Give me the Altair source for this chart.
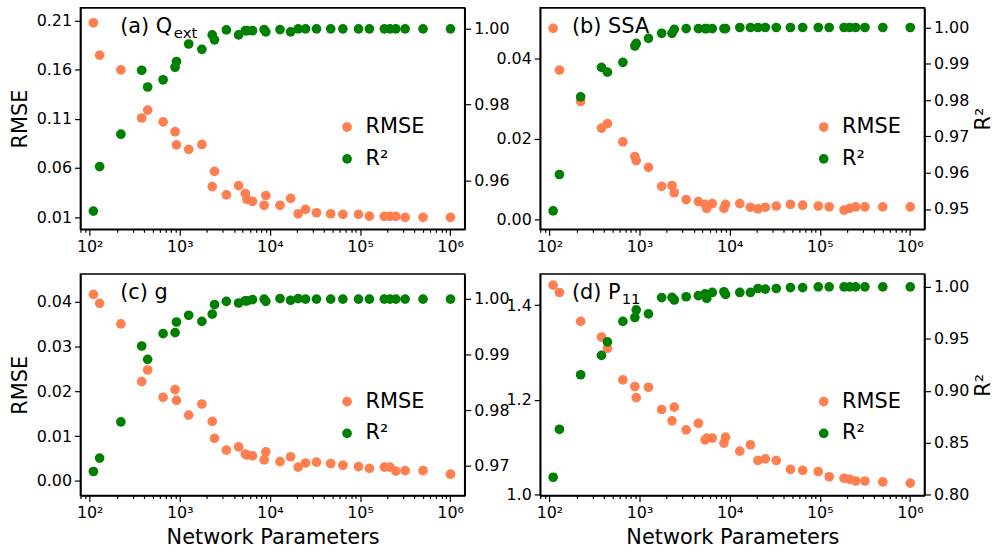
import altair as alt
import pandas as pd

# Network size (number of trainable parameters) of each tested architecture
params = [110, 129, 222, 378, 440, 653, 887, 919, 1256, 1759, 2291, 2428, 3289,
          4495, 5333, 5560, 6412, 8630, 9010, 12950, 16980, 20590, 24880, 32890,
          47250, 64560, 96170, 127100, 185900, 214800, 250000, 316900, 500300,
          1009000]

# (a) extinction efficiency
qext_rmse = [0.208, 0.175, 0.160, 0.111, 0.119, 0.107, 0.097, 0.0835, 0.079, 0.084,
             0.041, 0.0565, 0.0326, 0.042, 0.034, 0.028, 0.026, 0.022, 0.032, 0.022,
             0.029, 0.0134, 0.0178, 0.0144, 0.0134, 0.0127, 0.0127, 0.011, 0.0107,
             0.0107, 0.0107, 0.0097, 0.0097, 0.0097]
qext_r2 = [0.952, 0.9637, 0.9722, 0.989, 0.9846, 0.9865, 0.9898, 0.9913, 0.9959,
           0.9945, 0.9983, 0.997, 0.9996, 0.9983, 0.9994, 0.9994, 0.9994, 0.9997,
           0.9991, 0.9997, 0.9991, 0.9999, 0.9999, 0.9999, 0.9999, 0.9999, 0.9999,
           0.9999, 0.9999, 0.9999, 0.9999, 0.9999, 0.9999, 0.9999]

# (b) single scattering albedo
ssa_rmse = [0.0475, 0.0371, 0.0293, 0.0227, 0.0238, 0.0193, 0.0156, 0.0146, 0.0129,
            0.0082, 0.0084, 0.0066, 0.0049, 0.0044, 0.0037, 0.0027, 0.0039, 0.0027,
            0.0037, 0.0039, 0.0030, 0.0026, 0.0030, 0.0033, 0.0037, 0.0035, 0.0033,
            0.0031, 0.0023, 0.0027, 0.0031, 0.0031, 0.0031, 0.0031]
ssa_r2 = [0.9495, 0.9595, 0.9809, 0.989, 0.9877, 0.9904, 0.9949, 0.9956, 0.997,
          0.9984, 0.9984, 0.9995, 0.9997, 0.9997, 0.9997, 0.9997, 0.9997, 0.9997,
          0.9997, 1.0, 1.0, 1.0, 1.0, 1.0, 1.0, 1.0, 1.0, 1.0, 1.0, 1.0, 1.0, 1.0,
          1.0, 1.0]

# (c) asymmetry parameter
g_rmse = [0.0417, 0.0397, 0.0351, 0.0222, 0.0248, 0.0187, 0.0204, 0.0180, 0.0147,
          0.0172, 0.0133, 0.0095, 0.0069, 0.0076, 0.0060, 0.0058, 0.0056, 0.0047,
          0.0065, 0.0043, 0.0054, 0.0031, 0.0040, 0.0042, 0.0039, 0.0035, 0.0032,
          0.0028, 0.0031, 0.0031, 0.0022, 0.0023, 0.0023, 0.0015]
g_r2 = [0.969, 0.9714, 0.9779, 0.9915, 0.9891, 0.9937, 0.9939, 0.9958, 0.997,
        0.9959, 0.9972, 0.9989, 0.9995, 0.9992, 0.9996, 0.9996, 0.9998, 0.9999,
        0.9995, 1.0, 0.9997, 1.0, 0.9999, 0.9999, 0.9999, 0.9999, 0.9999, 0.9999,
        0.9999, 0.9999, 0.9999, 0.9999, 0.9999, 0.9999]

# (d) phase function element P11
p11_rmse = [1.4425, 1.427, 1.366, 1.333, 1.309, 1.2425, 1.2285, 1.205, 1.227, 1.180,
            1.156, 1.185, 1.137, 1.151, 1.116, 1.1196, 1.1196, 1.109, 1.1216, 1.092,
            1.1056, 1.0723, 1.0758, 1.0723, 1.0535, 1.0515, 1.0487, 1.038, 1.0348,
            1.0327, 1.029, 1.029, 1.027, 1.0244]
p11_r2 = [0.817, 0.863, 0.9153, 0.934, 0.9469, 0.9665, 0.9703, 0.9776, 0.9738,
          0.9893, 0.9896, 0.9871, 0.9902, 0.9912, 0.993, 0.9886, 0.9943, 0.995,
          0.9924, 0.9943, 0.9943, 0.9981, 0.9975, 0.9981, 0.999, 0.999, 0.9997,
          0.9997, 0.9997, 0.9997, 0.9997, 0.9997, 0.9997, 0.9997]

metrics = ["RMSE", "R²"]
metric_colors = ["coral", "green"]

panel_labels = ["(a) Q", "(b) SSA", "(c) g", "(d) P"]
panel_subs = ["ext", "", "", "11"]

# log-axis ticks: decades get labels, the rest are minor ticks
x_ticks = [80, 90] + [m * 10 ** e for e in range(2, 6) for m in range(1, 10)] + [10 ** 6]
is_decade = "abs(log(datum.value)/LN10 - round(log(datum.value)/LN10)) < 1e-6"
sup_digits = "['⁰','¹','²','³','⁴','⁵','⁶','⁷']"
x_label_expr = f"({is_decade}) ? '10' + {sup_digits}[round(log(datum.value)/LN10)] : ''"

FONT = "DejaVu Sans"
W, H = 387, 223
DOT = 95


def panel(rmse, r2, label, sub, rmse_dom, rmse_ticks, rmse_fmt, r2_dom, r2_ticks,
          left_title, right_title, x_title, text_x, sub_x, leg_x, leg_y):
    n = len(params)
    df = pd.DataFrame({
        "params": params * 2,
        "value": rmse + r2,
        "metric": [metrics[0]] * n + [metrics[1]] * n,
    })
    x = alt.X(
        "params:Q",
        scale=alt.Scale(type="log", domain=[79, 1.452e6], nice=False),
        axis=alt.Axis(values=x_ticks, labelExpr=x_label_expr, labelOverlap=False,
                      labelFlush=False,
                      tickSize={"condition": {"test": is_decade, "value": 6}, "value": 3},
                      title=x_title, titlePadding=6),
    )
    color = alt.Color(
        "metric:N",
        scale=alt.Scale(domain=metrics, range=metric_colors),
        legend=alt.Legend(orient="none", legendX=leg_x, legendY=leg_y, title=None),
    )
    base = alt.Chart(df).mark_circle(size=DOT, opacity=1)
    rmse_layer = base.transform_filter(alt.datum.metric == metrics[0]).encode(
        x=x,
        y=alt.Y("value:Q", scale=alt.Scale(domain=rmse_dom, nice=False, zero=False),
                axis=alt.Axis(orient="left", values=rmse_ticks, format=rmse_fmt,
                              title=left_title, titlePadding=6)),
        color=color,
    )
    r2_layer = base.transform_filter(alt.datum.metric == metrics[1]).encode(
        x=x,
        y=alt.Y("value:Q", scale=alt.Scale(domain=r2_dom, nice=False, zero=False),
                axis=alt.Axis(orient="right", values=r2_ticks, format=".2f",
                              title=right_title, titleAngle=270, titleBaseline="top",
                              titlePadding=4)),
        color=color,
    )
    layers = [rmse_layer, r2_layer]
    txt = alt.Chart(pd.DataFrame({"t": [label]})).mark_text(
        align="left", baseline="alphabetic", font=FONT, fontSize=21, color="black"
    ).encode(x=alt.value(text_x), y=alt.value(25), text="t:N")
    layers.append(txt)
    if sub:
        sub_txt = alt.Chart(pd.DataFrame({"t": [sub]})).mark_text(
            align="left", baseline="alphabetic", font=FONT, fontSize=15, color="black"
        ).encode(x=alt.value(sub_x), y=alt.value(30), text="t:N")
        layers.append(sub_txt)
    return alt.layer(*layers).resolve_scale(y="independent").properties(width=W, height=H)


pa = panel(qext_rmse, qext_r2, panel_labels[0], panel_subs[0],
           [-0.0025, 0.2232], [0.01, 0.06, 0.11, 0.16, 0.21], ".2f",
           [0.9472, 1.0054], [0.96, 0.98, 1.00],
           "RMSE", None, None, 40, 94, 258, 109.5)
pb = panel(ssa_rmse, ssa_r2, panel_labels[1], panel_subs[1],
           [-0.0025, 0.0526], [0.0, 0.02, 0.04], ".2f",
           [0.9444, 1.0054], [0.95, 0.96, 0.97, 0.98, 0.99, 1.00],
           None, "R²", None, 32, 0, 275, 109.5)
pc = panel(g_rmse, g_r2, panel_labels[2], panel_subs[2],
           [-0.00325, 0.04626], [0.0, 0.01, 0.02, 0.03, 0.04], ".2f",
           [0.9647, 1.0044], [0.97, 0.98, 0.99, 1.00],
           "RMSE", None, "Network Parameters", 40, 0, 258, 118)
pd_ = panel(p11_rmse, p11_r2, panel_labels[3], panel_subs[3],
            [0.9985, 1.466], [1.0, 1.2, 1.4], ".1f",
            [0.7995, 1.012], [0.80, 0.85, 0.90, 0.95, 1.00],
            None, "R²", "Network Parameters", 32, 82, 275, 118)

chart = (
    alt.concat(pa, pb, pc, pd_, columns=2, bounds="flush",
               spacing=alt.RowColnumber(row=45, column=76))
    .resolve_scale(color="independent")
    .resolve_legend(color="independent")
    .properties(padding={"left": 8, "top": 5, "right": 2, "bottom": 2},
                background="white")
    .configure_view(stroke="black", strokeWidth=1.6)
    .configure_axis(grid=False, labelFont=FONT, titleFont=FONT, labelFontSize=16,
                    titleFontSize=21, titleFontWeight="normal", labelColor="black",
                    titleColor="black", tickColor="black", domainColor="black",
                    domainWidth=1.6, tickWidth=1.2, tickSize=6, labelPadding=3)
    .configure_legend(labelFont=FONT, labelFontSize=21, labelColor="black",
                      symbolType="circle", symbolSize=DOT, symbolStrokeWidth=0,
                      rowPadding=10, labelOffset=8, padding=0)
)

chart.save("out.html", embed_options={"renderer": "svg", "actions": False})
